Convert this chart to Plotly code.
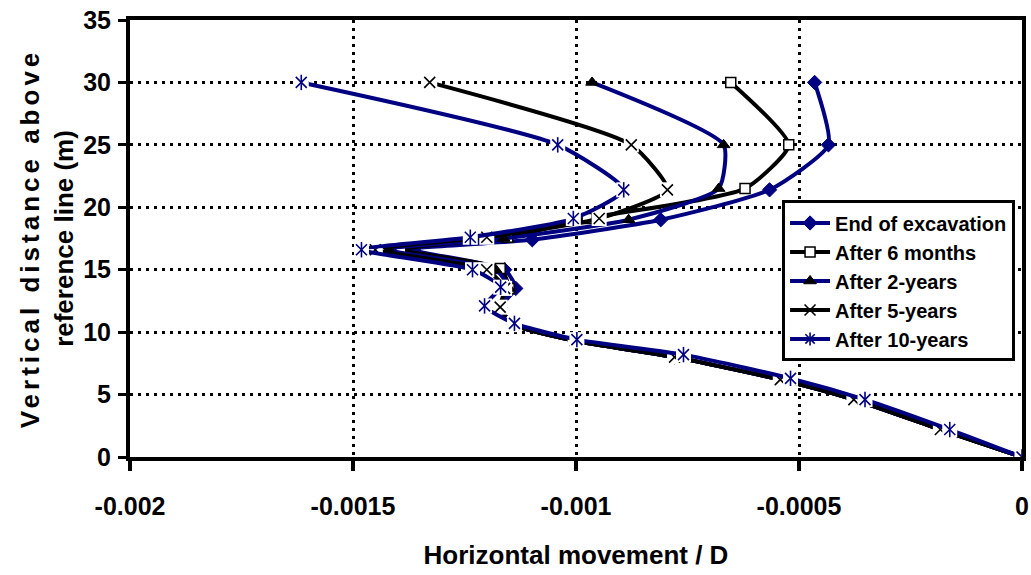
import plotly.graph_objects as go

# ---- data ----
depth_a = [30, 25, 21.4, 19.0, 17.4, 16.6, 15.0, 13.5, 12.0, 10.6, 9.3, 8.0, 6.2, 4.6, 2.2, 0]
depth_b = [30, 25, 21.5, 19.1, 17.6, 16.6, 15.1, 13.5, 12.0, 10.6, 9.3, 8.0, 6.2, 4.6, 2.2, 0]
depth_c = [30, 25, 21.5, 19.0, 17.5, 16.6, 15.0, 13.5, 12.0, 10.6, 9.3, 8.0, 6.2, 4.6, 2.2, 0]
depth_d = [30, 25, 21.4, 19.1, 17.6, 16.6, 15.0, 13.5, 12.0, 10.6, 9.3, 8.0, 6.2, 4.6, 2.2, 0]
depth_e = [30, 25, 21.4, 19.1, 17.6, 16.6, 15.0, 13.6, 12.1, 10.7, 9.4, 8.2, 6.3, 4.6, 2.2, 0]

end_excavation = [-0.000465, -0.000434, -0.000566, -0.000810, -0.001098, -0.001365, -0.001160,
                  -0.001135, -0.001170, -0.001140, -0.001002, -0.000779, -0.000542, -0.000377, -0.000183, 0]
after_6_months = [-0.000653, -0.000523, -0.000621, -0.000975, -0.001153, -0.001393, -0.001170,
                  -0.001150, -0.001170, -0.001140, -0.001002, -0.000779, -0.000542, -0.000377, -0.000183, 0]
after_2_years = [-0.000964, -0.000669, -0.000680, -0.000882, -0.001162, -0.001420, -0.001180,
                 -0.001150, -0.001170, -0.001140, -0.001002, -0.000779, -0.000542, -0.000377, -0.000183, 0]
after_5_years = [-0.001328, -0.000876, -0.000795, -0.000948, -0.001200, -0.001450, -0.001200,
                 -0.001160, -0.001170, -0.001140, -0.001002, -0.000779, -0.000542, -0.000377, -0.000183, 0]
after_10_years = [-0.001616, -0.001041, -0.000893, -0.001006, -0.001237, -0.001481, -0.001232,
                  -0.001169, -0.001205, -0.001138, -0.000998, -0.000759, -0.000519, -0.000352, -0.000162, 0]

series_names = ["End of excavation", "After 6 months", "After 2-years", "After 5-years", "After 10-years"]
x_ticks = [-0.002, -0.0015, -0.001, -0.0005, 0]
x_tick_labels = ["-0.002", "-0.0015", "-0.001", "-0.0005", "0"]
y_ticks = [0, 5, 10, 15, 20, 25, 30, 35]

NAVY = "#000080"
BLACK = "#000000"
FONT = "Liberation Sans, Arial"

styles = [
    dict(x=end_excavation, y=depth_a, color=NAVY, sym="diamond", size=11, fill=NAVY, lc=NAVY, lw=1, box=False),
    dict(x=after_6_months, y=depth_b, color=BLACK, sym="square", size=10, fill="white", lc=BLACK, lw=1.5, box=False),
    dict(x=after_2_years, y=depth_c, color=NAVY, sym="triangle-up", size=11, fill=BLACK, lc=BLACK, lw=1, box=False),
    dict(x=after_5_years, y=depth_d, color=BLACK, sym="x-thin", size=11, fill=BLACK, lc=BLACK, lw=1.6, box=True),
    dict(x=after_10_years, y=depth_e, color=NAVY, sym="x-thin", size=11, fill=NAVY, lc=NAVY, lw=1.6, box=True),
]

fig = go.Figure()

for i, s in enumerate(styles):
    fig.add_trace(go.Scatter(x=s["x"], y=s["y"], mode="lines",
                             line=dict(color=s["color"], width=4, shape="spline", smoothing=0.55),
                             showlegend=False, hoverinfo="skip"))
    if s["box"]:
        fig.add_trace(go.Scatter(x=s["x"], y=s["y"], mode="markers",
                                 marker=dict(symbol="square", size=15, color="white", line=dict(width=0)),
                                 showlegend=False, hoverinfo="skip"))
    fig.add_trace(go.Scatter(x=s["x"], y=s["y"], mode="markers",
                             marker=dict(symbol=s["sym"], size=s["size"], color=s["fill"],
                                         line=dict(color=s["lc"], width=s["lw"])),
                             showlegend=False))
    if i == 4:
        fig.add_trace(go.Scatter(x=s["x"], y=s["y"], mode="markers",
                                 marker=dict(symbol="line-ns", size=11, color=NAVY,
                                             line=dict(color=NAVY, width=1.6)),
                                 showlegend=False, hoverinfo="skip"))

# legend entries
legend_syms = ["diamond", "square", "triangle-up", "x-thin", "asterisk"]
for name, s, sym in zip(series_names, styles, legend_syms):
    fig.add_trace(go.Scatter(x=[None], y=[None], mode="lines+markers", name=name,
                             line=dict(color=s["color"], width=4),
                             marker=dict(symbol=sym, size=s["size"], color=s["fill"],
                                         line=dict(color=s["lc"], width=s["lw"]))))

fig.update_layout(
    width=1031, height=575,
    margin=dict(l=130, r=9, t=20, b=118),
    paper_bgcolor="white", plot_bgcolor="white",
    font=dict(family=FONT, color="black", size=20, weight="bold"),
    legend=dict(x=0.731, y=0.587, xanchor="left", yanchor="top",
                bgcolor="white", bordercolor="black", borderwidth=3,
                font=dict(family=FONT, size=20, color="black", weight="bold"),
                tracegroupgap=0, itemwidth=40),
)

fig.update_xaxes(range=[-0.002, 0], tickvals=x_ticks, ticktext=x_tick_labels,
                 showgrid=True, gridcolor="black", gridwidth=3, griddash="3px,5px",
                 showline=True, linecolor="black", linewidth=4, mirror=True,
                 ticks="outside", ticklen=10, tickwidth=4, tickcolor="black",
                 ticklabelstandoff=14, zeroline=False, automargin=False,
                 tickfont=dict(family=FONT, size=25, weight="bold"),
                 title=dict(text="Horizontal movement / D", standoff=28,
                            font=dict(family=FONT, size=26, weight="bold")))

fig.update_yaxes(range=[0, 35], tickvals=y_ticks,
                 showgrid=True, gridcolor="black", gridwidth=3, griddash="3px,5px",
                 showline=True, linecolor="black", linewidth=4, mirror=True,
                 ticks="outside", ticklen=8, tickwidth=3, tickcolor="black",
                 ticklabelstandoff=2, zeroline=False, automargin=False,
                 tickfont=dict(family=FONT, size=25, weight="bold"),
                 title=dict(text="<span style='letter-spacing:4px'>Vertical distance above</span><br>"
                                 "<span style='letter-spacing:0px'>reference line (m)</span>",
                            standoff=3,
                            font=dict(family=FONT, size=26, weight="bold")))

fig.write_html("out.html", config={"displayModeBar": False},
               post_script="document.body.style.margin='0px';")
